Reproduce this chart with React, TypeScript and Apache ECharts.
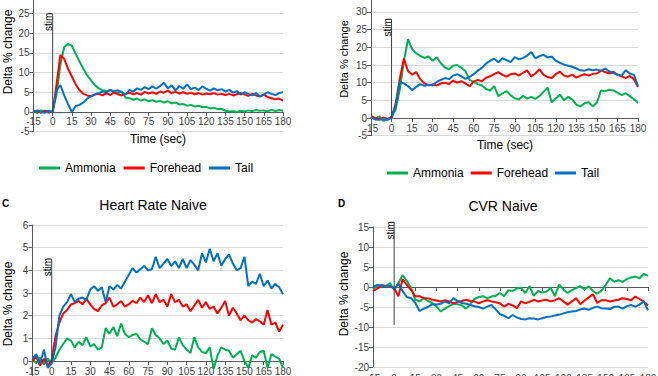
import React, { useEffect, useRef } from "react";
import * as echarts from "echarts";

const times = [
  -15, -12, -9, -6, -3, 0, 3, 6, 9, 12, 15,
  18, 21, 24, 27, 30, 33, 36, 39, 42, 45, 48,
  51, 54, 57, 60, 63, 66, 69, 72, 75, 78, 81,
  84, 87, 90, 93, 96, 99, 102, 105, 108, 111, 114,
  117, 120, 123, 126, 129, 132, 135, 138, 141, 144, 147,
  150, 153, 156, 159, 162, 165, 168, 171, 174, 177, 180,
];

const seriesNames = ["Ammonia", "Forehead", "Tail"];

// Panel A
const aAmmonia = [
  0.2, -0.3, 0.4, 0.1, -0.2, 0.2, 4.5, 12, 16.5, 17.3, 16.8,
  14.8, 12.8, 11, 9.3, 8, 6.8, 6, 5.5, 5.3, 5.6, 5.0,
  4.8, 5.2, 3.6, 3.5, 3.1, 3.4, 2.9, 3.2, 2.7, 3.0, 2.6,
  2.8, 2.4, 2.7, 2.2, 2.4, 1.9, 2.0, 1.6, 1.8, 1.4, 1.6,
  1.2, 1.3, 0.9, 1.1, 0.7, 0.8, 0.3, 0.1, 0.2, 0.0, 0.3,
  0.1, 0.4, 0.2, 0.5, 0.3, 0.4, 0.1, 0.6, 0.2, 0.5, 0.3,
];
const aForehead = [
  0.3, 0.1, -0.2, 0.3, 0.0, 0.1, 7, 14.5, 13.5, 11, 9,
  7, 5.5, 4.6, 4.2, 4.0, 4.4, 4.6, 4.2, 4.8, 4.3, 5.0,
  4.5, 4.2, 4.6, 4.9, 4.5, 4.8, 4.4, 5.1, 4.7, 5.0, 4.6,
  5.2, 4.9, 5.4, 4.8, 5.1, 4.7, 5.0, 4.6, 4.9, 4.5, 4.8,
  4.4, 4.7, 4.5, 4.8, 4.4, 4.6, 4.3, 4.6, 4.2, 4.5, 4.8,
  4.4, 4.1, 4.6, 4.2, 4.0, 4.4, 3.8, 3.5, 3.2, 3.4, 2.9,
];
const aTail = [
  0.1, 0.4, 0.0, -0.2, 0.3, 0.0, 5.5, 6.8, 4.2, 2.0, 0.0,
  1.5, 1.8, 2.4, 3.4, 4.0, 4.5, 4.8, 5.2, 5.0, 5.6, 5.3,
  5.5, 5.0, 4.4, 5.6, 5.2, 6.0, 5.6, 6.3, 5.8, 6.5, 5.9,
  6.6, 7.4, 6.0, 6.8, 5.5, 6.6, 5.9, 7.0, 5.8, 6.2, 5.6,
  6.5, 5.9, 5.4, 6.0, 5.5, 5.8, 5.2, 5.6, 4.9, 5.3, 4.4,
  5.0, 4.6, 4.2, 4.8, 3.9, 4.4, 5.0, 4.6, 4.3, 4.8, 5.0,
];

// Panel B
const bAmmonia = [
  0.3, -0.2, 0.5, -0.8, -0.4, 0.2, 2.5, 8, 16, 22.3, 19.5,
  18.3, 17.6, 17.0, 17.4, 16.2, 17.2, 15.5, 14.3, 13.8, 14.8, 15.0,
  14.2, 13.2, 10.8, 10.2, 9.6, 9.2, 8.2, 7.8, 9.0, 6.2, 7.0,
  7.6, 6.4, 5.6, 5.2, 6.3, 5.5, 6.0, 5.4, 6.2, 7.4, 8.6,
  4.4, 5.5, 6.6, 5.0, 6.0, 5.2, 3.8, 3.3, 4.2, 4.5, 3.3,
  4.4, 7.8, 7.6, 8.0, 7.8, 7.2, 6.5, 7.0, 6.2, 5.3, 4.3,
];
const bForehead = [
  0.5, 0.0, -0.3, 0.2, -0.3, 0.3, 4, 11, 16.8, 13.3, 12.3,
  13.0, 11.0, 9.8, 9.3, 9.5, 9.2, 9.8, 10.0, 9.6, 10.6, 10.0,
  10.4, 9.8, 9.0, 10.3, 10.8, 10.4, 11.4, 11.8, 12.4, 13.0, 12.2,
  11.7, 12.4, 12.6, 12.0, 12.8, 13.5, 11.8, 12.6, 13.8, 12.2, 11.6,
  11.3, 12.4, 13.1, 12.0, 11.7, 12.3, 11.4, 12.0, 12.4, 12.0, 12.5,
  12.6, 13.4, 13.0, 12.6, 13.1, 12.2, 11.8, 11.3, 11.9, 11.0, 8.8,
];
const bTail = [
  0.2, -0.4, -0.5, -0.3, -0.5, 0.0, 3.5, 10.2, 9.8, 9.0, 7.9,
  8.8, 9.6, 9.1, 9.4, 9.3, 10.2, 10.8, 11.3, 11.0, 12.0, 12.4,
  11.8, 11.1, 11.6, 12.4, 13.4, 14.2, 15.4, 16.2, 16.8, 15.8, 16.9,
  16.4, 15.8, 17.2, 16.6, 17.0, 17.6, 18.7, 16.9, 17.5, 17.9, 17.1,
  17.4, 16.2, 15.6, 15.1, 14.8, 14.5, 14.0, 13.5, 13.4, 13.8, 13.5,
  13.7, 13.4, 14.0, 13.2, 12.7, 12.3, 12.0, 13.5, 12.6, 12.2, 9.0,
];

// Panel C (Heart Rate Naive)
const cAmmonia = [
  0.1, -0.1, 0.15, -0.15, 0.1, -0.1, 0.15, 0.5, 0.75, 1.0, 0.9,
  0.6, 0.85, 0.7, 1.05, 0.65, 0.75, 0.5, 0.6, 1.45, 1.2, 1.5,
  1.1, 1.65, 1.2, 1.05, 1.15, 1.2, 0.95, 0.85, 0.75, 1.45, 1.15,
  1.0, 0.75, 0.9, 0.55, 0.5, 1.05, 0.7, 0.5, 0.35, 1.05, 0.6,
  0.4, 0.35, 0.6, -0.35, 0.25, 0.6, 0.5, 0.45, 0.15, 0.3, 0.45,
  0.0, -0.3, 0.25, 0.15, 0.4, 0.45, -0.3, 0.3, 0.2, 0.1, -0.3,
];
const cForehead = [
  0.0, 0.2, -0.2, 0.1, -0.2, 0.05, 1.1, 1.7, 2.1, 2.25, 2.5,
  2.55, 2.65, 2.5, 2.75, 2.5, 2.3, 2.2, 2.45, 2.55, 2.8, 2.4,
  2.5, 2.65, 2.4, 2.5, 2.65, 2.55, 2.8, 2.6, 2.9, 2.55, 2.95,
  2.6, 2.7, 2.4, 2.95, 2.6, 2.7, 2.4, 2.5, 2.2, 2.45, 2.7,
  2.35, 2.6, 2.3, 2.4, 2.1, 2.35, 2.65, 2.0, 2.35, 2.1, 1.8,
  2.0, 1.8, 1.7, 1.85, 1.75, 1.6, 2.25, 1.6, 1.7, 1.3, 1.6,
];
const cTail = [
  0.1, 0.3, -0.1, 0.5, -0.3, -0.1, 0.6, 2.0, 2.4, 2.6, 2.95,
  2.6, 2.75, 2.8, 2.7, 3.15, 3.3, 3.1, 3.25, 2.6, 3.3, 3.15,
  3.35, 3.2, 3.5, 3.8, 4.1, 3.9, 4.05, 4.2, 4.0, 4.05, 4.6,
  4.1, 4.3, 4.5, 4.2, 4.4, 4.1, 4.5, 4.1, 4.45, 4.25, 4.0,
  4.75, 4.35, 4.95, 4.4, 4.75, 4.2, 4.5, 4.7, 4.3, 4.0, 4.1,
  4.6, 3.3, 3.5, 3.4, 3.85, 3.3, 3.55, 3.2, 3.4, 3.25, 2.95,
];

// Panel D (CVR Naive)
const dAmmonia = [
  -0.5, 0.3, 0.5, 0.2, 1.0, -0.7, 0.9, 3.0, 1.5, -0.2, -3.2,
  -3.6, -2.8, -3.5, -4.0, -4.9, -6.1, -5.4, -4.8, -4.2, -4.3, -4.6,
  -5.4, -4.3, -3.0, -2.5, -2.3, -2.8, -2.4, -2.2, -1.5, -2.3, -0.8,
  -1.0, -0.4, -0.2, -1.5, 0.2, -2.2, -1.0, -1.4, -1.2, -0.2, -2.3,
  0.6, -0.6, -1.5, -0.8, -0.3, 0.2, -0.6, 0.2, -1.0, -1.7, -0.9,
  0.5, 2.2, 1.3, 1.7, 1.3, 2.0, 2.4, 2.6, 2.2, 3.3, 2.8,
];
const dForehead = [
  -1.0, -0.4, 0.4, 0.3, 0.1, -0.2, -2.3, 2.0, 0.5, -0.7, -2.3,
  -2.3, -2.8, -2.8, -3.2, -3.4, -3.6, -3.3, -3.6, -4.1, -3.7, -3.5,
  -3.2, -3.5, -3.6, -4.1, -3.6, -3.3, -3.6, -3.8, -4.1, -4.9, -4.2,
  -4.6, -5.3, -3.6, -4.1, -3.7, -3.2, -3.6, -3.4, -3.2, -3.6, -3.3,
  -2.8, -3.6, -4.4, -3.6, -2.8, -4.3, -3.4, -2.6, -1.8, -4.0, -3.3,
  -3.3, -3.6, -3.4, -3.2, -2.8, -3.0, -3.3, -2.4, -3.0, -3.6, -4.6,
];
const dTail = [
  0.0, 0.5, 0.4, 0.2, 0.3, -0.5, 0.9, -1.0, -2.5, -2.8, -4.0,
  -6.0, -5.4, -5.0, -4.3, -4.4, -4.2, -3.6, -4.1, -2.8, -3.5, -4.0,
  -4.2, -4.5, -4.8, -5.0, -5.4, -4.9, -4.5, -5.6, -6.8, -7.2, -7.8,
  -7.0, -7.6, -8.0, -8.1, -7.8, -7.9, -8.1, -7.8, -7.5, -7.4, -7.1,
  -6.9, -6.6, -6.3, -6.1, -6.0, -5.6, -5.4, -5.7, -5.2, -4.9, -5.3,
  -5.4, -5.5, -5.0, -4.9, -5.4, -4.8, -4.5, -4.9, -4.4, -3.6, -5.8,
];

// y axis ranges per panel [min, max, interval]
const yRanges = [
  [-5, 30, 5],
  [-5, 35, 5],
  [-1, 6, 1],
  [-20, 15, 5],
];
// stim marker extents (data units) per panel [top, bottom]
const stimExtents = [
  [25, 0],
  [28, 0],
  [4.5, 0],
  [16.2, -9.5],
];

const panelData = [
  [aAmmonia, aForehead, aTail],
  [bAmmonia, bForehead, bTail],
  [cAmmonia, cForehead, cTail],
  [dAmmonia, dForehead, dTail],
];

const COLORS = ["#00B050", "#FF0000", "#0070C0"];
const FONT = "'Liberation Sans', Arial, Helvetica, sans-serif";
const AXIS = "#595959";
const LABEL = "#404040";
const OFF = 30;

export default function App() {
  const ref = useRef<HTMLDivElement>(null);

  useEffect(() => {
    if (!ref.current) return;
    const chart = echarts.init(ref.current, null, { renderer: "svg" });

    const gridBoxes = [
      { left: 33.5, top: 24, width: 249.5, height: 137.6 },
      { left: 371, top: 24.3, width: 267, height: 141.4 },
      { left: 32.4, top: 255, width: 250.6, height: 158.7 },
      { left: 373, top: 257, width: 275, height: 140 },
    ];
    const grids = gridBoxes.map((g) => ({ ...g, containLabel: false, outerBoundsMode: "none" }));

    // distance (px) from grid bottom up to the y = 0 line, via the y range
    const zeroLift = gridBoxes.map((g, i) => {
      const [mn, mx] = yRanges[i];
      return ((0 - mn) / (mx - mn)) * g.height;
    });

    const baseX = (gridIndex: number, offset: number, showLabel: boolean) => ({
      type: "value",
      gridIndex,
      position: "bottom",
      offset,
      min: -15,
      max: 180,
      interval: 15,
      axisLine: { show: true, onZero: false, lineStyle: { color: AXIS, width: 1 } },
      axisTick: { show: true, length: 4, lineStyle: { color: AXIS } },
      axisLabel: { show: showLabel, fontSize: 10, color: LABEL, margin: 5, fontFamily: FONT },
      splitLine: { show: false },
    });

    const xAxes: any[] = [
      baseX(0, -zeroLift[0], true),
      baseX(1, -zeroLift[1], true),
      baseX(2, -zeroLift[2], true),
      baseX(3, -zeroLift[3], false),
      {
        ...baseX(3, 0, true),
        axisLine: { show: false, onZero: false },
        axisTick: { show: false },
        axisLabel: { show: true, fontSize: 10, color: LABEL, margin: 6, fontFamily: FONT },
      },
    ];

    const yAxes = yRanges.map((r, i) => ({
      type: "value",
      gridIndex: i,
      min: r[0],
      max: r[1],
      interval: r[2],
      axisLine: { show: true, onZero: false, lineStyle: { color: AXIS, width: 1 } },
      axisTick: { show: true, length: 4, lineStyle: { color: AXIS } },
      axisLabel: { show: true, fontSize: 10, color: LABEL, margin: 4, fontFamily: FONT },
      splitLine: { show: true, lineStyle: { color: "#d9d9d9", width: 1 } },
    }));

    const series: any[] = [];
    panelData.forEach((arrs, p) => {
      arrs.forEach((vals, k) => {
        series.push({
          type: "line",
          name: seriesNames[k],
          xAxisIndex: p,
          yAxisIndex: p,
          data: times.map((t, j) => [t, vals[j]]),
          showSymbol: false,
          symbol: "none",
          lineStyle: { width: 2, color: COLORS[k] },
          itemStyle: { color: COLORS[k] },
          emphasis: { disabled: true },
        });
      });
    });

    const legendBase = {
      data: seriesNames,
      orient: "horizontal",
      icon: "rect",
      itemWidth: 21,
      itemHeight: 3,
      padding: 0,
      textStyle: { fontSize: 12, color: "#000", fontFamily: FONT, lineHeight: 14 },
    };

    chart.setOption({
      animation: false,
      textStyle: { fontFamily: FONT },
      grid: grids,
      xAxis: xAxes,
      yAxis: yAxes,
      series,
      legend: [
        { ...legendBase, left: 39, top: 168 + OFF - 7, itemGap: 8 },
        { ...legendBase, left: 387, top: 173 + OFF - 7, itemGap: 7 },
      ],
    });

    const txt = (x: number, y: number, text: string, extra: any = {}, rot = 0) => ({
      type: "text",
      x,
      y,
      rotation: rot,
      z: 50,
      style: {
        text,
        textAlign: "center",
        textVerticalAlign: "middle",
        fontSize: 12,
        fill: "#000",
        fontFamily: FONT,
        ...extra,
      },
    });

    const graphics: any[] = [
      txt(158, 139 + OFF, "Time (sec)"),
      txt(505, 145 + OFF, "Time (sec)"),
      txt(8, 52 + OFF, "Delta % change", {}, Math.PI / 2),
      txt(344, 59 + OFF, "Delta % change", { fontSize: 11 }, Math.PI / 2),
      txt(8, 304 + OFF, "Delta % change", {}, Math.PI / 2),
      txt(344, 294 + OFF, "Delta % change", {}, Math.PI / 2),
      txt(153, 205 + OFF, "Heart Rate Naive", { fontSize: 14 }),
      txt(503, 206 + OFF, "CVR Naive", { fontSize: 14 }),
      txt(2, 203 + OFF, "C", { fontSize: 10, fontWeight: "bold", textAlign: "left" }),
      txt(338, 203 + OFF, "D", { fontSize: 10, fontWeight: "bold", textAlign: "left" }),
    ];

    stimExtents.forEach((ext, p) => {
      const top = chart.convertToPixel({ seriesIndex: p * 3 } as any, [0, ext[0]]) as number[];
      const bot = chart.convertToPixel({ seriesIndex: p * 3 } as any, [0, ext[1]]) as number[];
      if (!top || !bot) return;
      graphics.push({
        type: "line",
        z: 40,
        shape: { x1: top[0], y1: top[1], x2: bot[0], y2: bot[1] },
        style: { stroke: "#404040", lineWidth: 1 },
      });
      graphics.push(
        txt(top[0] - 4, top[1] - 1, "stim", { fontSize: 10, textAlign: "right" }, Math.PI / 2)
      );
    });

    chart.setOption({ graphic: graphics });

    return () => {
      chart.dispose();
    };
  }, []);

  return (
    <div
      style={{
        position: "fixed",
        left: 0,
        top: 0,
        width: 658,
        height: 376,
        overflow: "hidden",
        background: "#fff",
      }}
    >
      <div
        ref={ref}
        style={{ position: "absolute", left: 0, top: -OFF, width: 658, height: 376 + 2 * OFF }}
      />
    </div>
  );
}
